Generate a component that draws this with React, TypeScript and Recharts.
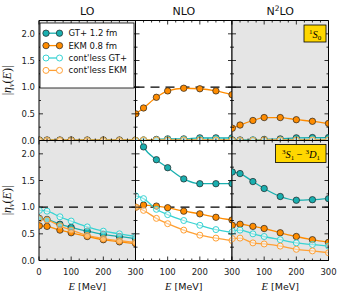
import React from "react";
import { LineChart, Line, XAxis, YAxis, ReferenceLine, ReferenceArea } from "recharts";

const W = 337;
const H = 301;

const energies = [1, 25, 65, 100, 150, 200, 250, 300];
const xTicks = [0, 25, 50, 75, 100, 125, 150, 175, 200, 225, 250, 275, 300];
const yTicks = [0, 0.25, 0.5, 0.75, 1, 1.25, 1.5, 1.75, 2];

// 1S0 row
const lo1s0Gt = [0.0, 0.0, 0.0, 0.0, 0.0, 0.0, 0.0, 0.0];
const lo1s0Ekm = [0.01, 0.01, 0.01, 0.01, 0.01, 0.01, 0.01, 0.01];
const lo1s0GtC = [0.0, 0.0, 0.0, 0.0, 0.0, 0.0, 0.0, 0.0];
const lo1s0EkmC = [0.0, 0.0, 0.0, 0.0, 0.0, 0.0, 0.0, 0.0];

const nlo1s0Gt = [0.0, 0.01, 0.02, 0.03, 0.03, 0.05, 0.05, 0.05];
const nlo1s0Ekm = [0.5, 0.61, 0.81, 0.93, 0.98, 0.97, 0.93, 0.86];
const nlo1s0GtC = [0.0, 0.01, 0.01, 0.02, 0.02, 0.03, 0.03, 0.03];
const nlo1s0EkmC = [0.0, 0.01, 0.01, 0.01, 0.01, 0.01, 0.01, 0.01];

const n2lo1s0Gt = [0.01, 0.01, 0.01, 0.02, 0.03, 0.05, 0.055, 0.055];
const n2lo1s0Ekm = [0.23, 0.29, 0.375, 0.43, 0.43, 0.39, 0.36, 0.32];
const n2lo1s0GtC = [0.0, 0.0, 0.01, 0.01, 0.01, 0.02, 0.02, 0.02];
const n2lo1s0EkmC = [0.0, 0.0, 0.0, 0.01, 0.01, 0.01, 0.01, 0.01];

// 3S1-3D1 row
const lo3s1Gt = [0.79, 0.77, 0.68, 0.62, 0.55, 0.49, 0.45, 0.41];
const lo3s1Ekm = [0.65, 0.64, 0.57, 0.52, 0.45, 0.39, 0.35, 0.32];
const lo3s1GtC = [0.94, 0.925, 0.82, 0.74, 0.63, 0.55, 0.5, 0.45];
const lo3s1EkmC = [0.78, 0.76, 0.65, 0.57, 0.47, 0.41, 0.37, 0.34];

const nlo3s1Gt = [2.45, 2.13, 1.89, 1.74, 1.53, 1.44, 1.44, 1.44];
const nlo3s1Ekm = [1.0, 1.04, 1.02, 0.99, 0.925, 0.875, 0.81, 0.76];
const nlo3s1GtC = [1.21, 1.16, 0.96, 0.86, 0.75, 0.66, 0.58, 0.53];
const nlo3s1EkmC = [1.0, 0.94, 0.79, 0.69, 0.57, 0.475, 0.42, 0.375];

const n2lo3s1Gt = [1.66, 1.63, 1.48, 1.35, 1.2, 1.13, 1.14, 1.16];
const n2lo3s1Ekm = [0.66, 0.68, 0.64, 0.6, 0.52, 0.45, 0.39, 0.34];
const n2lo3s1GtC = [0.55, 0.57, 0.5, 0.45, 0.39, 0.33, 0.3, 0.27];
const n2lo3s1EkmC = [0.41, 0.42, 0.33, 0.31, 0.27, 0.21, 0.18, 0.145];

const series = [
  { key: "gt", name: "GT+ 1.2 fm", color: "#1aafaf", filled: true },
  { key: "ekm", name: "EKM 0.8 fm", color: "#ff8c00", filled: true },
  { key: "gtc", name: "cont'less GT+", color: "#38d3d3", filled: false },
  { key: "ekmc", name: "cont'less EKM", color: "#ffa035", filled: false },
];

const panelLefts = [39, 135.5, 232];
const PW = 96.5;
const panelTops = [20.5, 140.5];
const PH = 120;
const tickFont = { fontFamily: "DejaVu Sans", fontSize: 8.5, fill: "#222" };

function build(gt: number[], ekm: number[], gtc: number[], ekmc: number[]) {
  return energies.map((e, i) => ({ e, gt: gt[i], ekm: ekm[i], gtc: gtc[i], ekmc: ekmc[i] }));
}

const panels = [
  { col: 0, row: 0, data: build(lo1s0Gt, lo1s0Ekm, lo1s0GtC, lo1s0EkmC) },
  { col: 1, row: 0, data: build(nlo1s0Gt, nlo1s0Ekm, nlo1s0GtC, nlo1s0EkmC) },
  { col: 2, row: 0, data: build(n2lo1s0Gt, n2lo1s0Ekm, n2lo1s0GtC, n2lo1s0EkmC) },
  { col: 0, row: 1, data: build(lo3s1Gt, lo3s1Ekm, lo3s1GtC, lo3s1EkmC) },
  { col: 1, row: 1, data: build(nlo3s1Gt, nlo3s1Ekm, nlo3s1GtC, nlo3s1EkmC) },
  { col: 2, row: 1, data: build(n2lo3s1Gt, n2lo3s1Ekm, n2lo3s1GtC, n2lo3s1EkmC) },
];

function Panel({ col, row, data }: { col: number; row: number; data: any[] }) {
  const left = panelLefts[col];
  const top = panelTops[row];
  const shaded = col !== 1;
  const showX = row === 1;

  const bottomTick = (p: any) => {
    const v = p.payload.value;
    const major = v % 100 === 0;
    const label = showX && major && (col === 0 || v !== 0);
    return (
      <g>
        <line x1={p.x} x2={p.x} y1={p.y} y2={p.y - (major ? 4 : 2)} stroke="#000" strokeWidth={0.8} />
        {label && (
          <text x={p.x} y={p.y + 14} textAnchor="middle" {...tickFont}>
            {v}
          </text>
        )}
      </g>
    );
  };
  const topTick = (p: any) => {
    const major = p.payload.value % 100 === 0;
    return <line x1={p.x} x2={p.x} y1={p.y} y2={p.y + (major ? 4 : 2)} stroke="#000" strokeWidth={0.8} />;
  };
  const leftTick = (p: any) => {
    const v = p.payload.value;
    const major = Math.abs(v * 2 - Math.round(v * 2)) < 1e-6;
    return (
      <g>
        <line x1={p.x} x2={p.x + (major ? 4 : 2)} y1={p.y} y2={p.y} stroke="#000" strokeWidth={0.8} />
        {col === 0 && major && (
          <text x={p.x - 4} y={p.y + 3} textAnchor="end" {...tickFont}>
            {v.toFixed(1)}
          </text>
        )}
      </g>
    );
  };
  const rightTick = (p: any) => {
    const v = p.payload.value;
    const major = Math.abs(v * 2 - Math.round(v * 2)) < 1e-6;
    return <line x1={p.x} x2={p.x - (major ? 4 : 2)} y1={p.y} y2={p.y} stroke="#000" strokeWidth={0.8} />;
  };

  const axisLine = { stroke: "#000", strokeWidth: 1 };

  return (
    <div style={{ position: "absolute", left: 0, top: 0 }}>
      <LineChart
        width={W}
        height={H}
        data={data}
        margin={{ left: left - 1, top: top - 1, right: W - left - PW - 1, bottom: H - top - PH - 1 }}
      >
        {shaded && (
          <ReferenceArea xAxisId="b" yAxisId="l" x1={0} x2={300} y1={0} y2={2.25} fill="#e5e5e5" fillOpacity={1} stroke="none" />
        )}
        <XAxis xAxisId="b" dataKey="e" type="number" domain={[0, 300]} ticks={xTicks} interval={0} height={1} tickSize={0} tickMargin={0} tick={bottomTick} axisLine={axisLine} allowDataOverflow />
        <XAxis xAxisId="t" orientation="top" dataKey="e" type="number" domain={[0, 300]} ticks={xTicks} interval={0} height={1} tickSize={0} tickMargin={0} tick={topTick} axisLine={axisLine} allowDataOverflow />
        <YAxis yAxisId="l" type="number" domain={[0, 2.25]} ticks={yTicks} interval={0} width={1} tickSize={0} tickMargin={0} tick={leftTick} axisLine={axisLine} allowDataOverflow />
        <YAxis yAxisId="r" orientation="right" type="number" domain={[0, 2.25]} ticks={yTicks} interval={0} width={1} tickSize={0} tickMargin={0} tick={rightTick} axisLine={axisLine} allowDataOverflow />
        <ReferenceLine xAxisId="b" yAxisId="l" y={1} stroke="#000" strokeWidth={1.2} strokeDasharray="9 6" />
        {series.map((s) => (
          <Line
            key={s.key}
            xAxisId="b"
            yAxisId="l"
            dataKey={s.key}
            type="monotone"
            stroke={s.color}
            strokeWidth={1.3}
            dot={
              s.filled
                ? { r: 3.2, fill: s.color, stroke: "#222", strokeWidth: 0.7 }
                : { r: 3, fill: "rgba(255,255,255,0.45)", stroke: s.color, strokeWidth: 1 }
            }
            isAnimationActive={false}
          />
        ))}
      </LineChart>
    </div>
  );
}

function Marker({ x, y, s }: { x: number; y: number; s: (typeof series)[number] }) {
  return s.filled ? (
    <circle cx={x} cy={y} r={3.2} fill={s.color} stroke="#222" strokeWidth={0.7} />
  ) : (
    <circle cx={x} cy={y} r={3} fill="#fff" stroke={s.color} strokeWidth={1} />
  );
}

function Overlay() {
  const serif = "Liberation Serif";
  return (
    <svg width={W} height={H} style={{ position: "absolute", left: 0, top: 0 }}>
      <text x={panelLefts[0] + PW / 2} y={15} textAnchor="middle" fontFamily="DejaVu Sans" fontSize={11} fill="#111">LO</text>
      <text x={panelLefts[1] + PW / 2} y={15} textAnchor="middle" fontFamily="DejaVu Sans" fontSize={11} fill="#111">NLO</text>
      <text x={panelLefts[2] + PW / 2} y={15} textAnchor="middle" fontFamily="DejaVu Sans" fontSize={11} fill="#111">
        N<tspan fontSize={7.5} dy={-4}>2</tspan>
        <tspan dy={4}>LO</tspan>
      </text>

      {panelTops.map((t, i) => (
        <text key={i} transform={`translate(11, ${t + PH / 2}) rotate(-90)`} textAnchor="middle" fontFamily={serif} fontSize={12} fill="#111">
          |<tspan fontStyle="italic">η</tspan>
          <tspan fontStyle="italic" fontSize={8} dy={2.5}>ν</tspan>
          <tspan dy={-2.5}>(</tspan>
          <tspan fontStyle="italic">E</tspan>)|
        </text>
      ))}

      {panelLefts.map((l, i) => (
        <text key={i} x={l + PW / 2} y={290} textAnchor="middle" fontSize={9.5} fill="#111">
          <tspan fontFamily={serif} fontStyle="italic" fontSize={10.5}>E</tspan>
          <tspan fontFamily="DejaVu Sans"> [MeV]</tspan>
        </text>
      ))}

      <rect x={40} y={23} width={94} height={65} fill="#fff" stroke="#000" strokeWidth={0.8} />
      {series.map((s, i) => {
        const y = 33.2 + i * 12.4;
        return (
          <g key={s.key}>
            <line x1={46} x2={59.5} y1={y} y2={y} stroke={s.color} strokeWidth={1.3} />
            <Marker x={46} y={y} s={s} />
            <Marker x={59.5} y={y} s={s} />
            <text x={68.5} y={y + 3} fontFamily="DejaVu Sans" fontSize={8.5} fill="#111">
              {s.name}
            </text>
          </g>
        );
      })}

      <rect x={304} y={25} width={22} height={17} fill="#ffd700" stroke="#000" strokeWidth={0.8} />
      <text x={315} y={37.5} textAnchor="middle" fontFamily={serif} fontSize={10.5} fill="#000">
        <tspan fontSize={7} dy={-4}>1</tspan>
        <tspan fontStyle="italic" dy={4}>S</tspan>
        <tspan fontSize={7} dy={2}>0</tspan>
      </text>

      <rect x={275.5} y={144.5} width={50.5} height={18} fill="#ffd700" stroke="#000" strokeWidth={0.8} />
      <text x={301} y={157.5} textAnchor="middle" fontFamily={serif} fontSize={10.5} fill="#000">
        <tspan fontSize={7} dy={-4}>3</tspan>
        <tspan fontStyle="italic" dy={4}>S</tspan>
        <tspan fontSize={7} dy={2}>1</tspan>
        <tspan dy={-2}> − </tspan>
        <tspan fontSize={7} dy={-4}>3</tspan>
        <tspan fontStyle="italic" dy={4}>D</tspan>
        <tspan fontSize={7} dy={2}>1</tspan>
      </text>
    </svg>
  );
}

export default function App() {
  return (
    <div style={{ position: "fixed", left: 0, top: 0, width: W, height: H, background: "#fff" }}>
      {panels.map((p, i) => (
        <Panel key={i} {...p} />
      ))}
      <Overlay />
    </div>
  );
}
